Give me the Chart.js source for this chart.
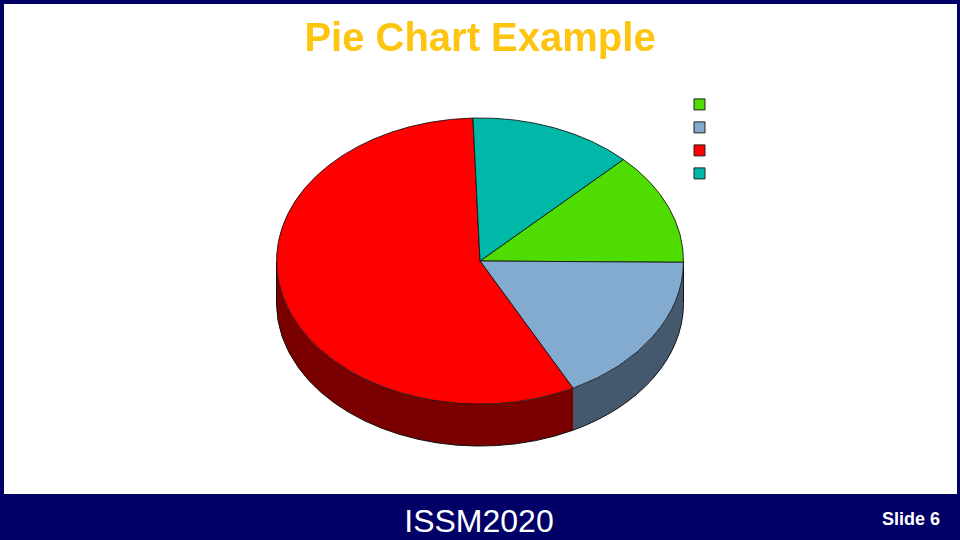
<!DOCTYPE html>
<html>
<head>
<meta charset="utf-8">
<title>Pie Chart Example</title>
<script src="https://cdn.jsdelivr.net/npm/chart.js@4"></script>
<style>
  html, body { margin: 0; padding: 0; background: #fff; }
  #slide { position: relative; width: 960px; height: 540px; overflow: hidden; font-family: "Liberation Sans", Arial, sans-serif; }
  #frame { position: absolute; left: 0; top: 0; width: 953px; height: 490px; border: 4px solid #000066; border-right-width: 3px; border-bottom: 0; }
  #footer { position: absolute; left: 0; top: 494px; width: 960px; height: 46px; background: #000066; color: #fff; }
  #conf { position: absolute; left: 379px; width: 200px; top: 8px; line-height: 38px; font-size: 32px; text-align: center; }
  #slideNo { position: absolute; right: 20px; top: 14px; line-height: 22px; font-size: 18px; font-weight: bold; }
  canvas { position: absolute; left: 0; top: 0; }
</style>
</head>
<body>
<div id="slide">
  <div id="frame"></div>
  <canvas id="pieChart" width="960" height="540"></canvas>
  <div id="footer">
    <div id="conf">ISSM2020</div>
    <div id="slideNo">Slide 6</div>
  </div>
</div>
<script>
// ---- data (legend names are blank in the original)
const categories = ["", "", "", ""];
const sliceValues = [12.7, 17.3, 57.0, 13.0];
const sliceColors = ["#4FDC00", "#82ABCF", "#FF0000", "#00B8A8"];
const sideColors = ["#2A7400", "#44596D", "#7A0000", "#006058"];
const startRotation = 44.8;

// ---- tilt: squash the pie into an ellipse and give it a side wall
const tiltY = 0.703;
const wallDepth = 42;

const tiltPlugin = {
  id: "tilt",
  afterLayout(chart) {
    // title is centred on the whole slide, not on what the padding leaves
    chart.titleBlock.left = 0;
    chart.titleBlock.right = chart.width;
  },
  beforeDatasetsDraw(chart) {
    const ctx = chart.ctx;
    const arcs = chart.getDatasetMeta(0).data;

    // side wall, only the front half of the ellipse can be seen
    arcs.forEach((arc, i) => {
      const a0 = Math.max(arc.startAngle, 0);
      const a1 = Math.min(arc.endAngle, Math.PI);
      if (a1 <= a0) return;
      const rx = arc.outerRadius;
      const ry = rx * tiltY;
      ctx.beginPath();
      ctx.ellipse(arc.x, arc.y + wallDepth, rx, ry, 0, a0, a1);
      ctx.ellipse(arc.x, arc.y, rx, ry, 0, a1, a0, true);
      ctx.closePath();
      ctx.fillStyle = sideColors[i];
      ctx.fill();
      ctx.beginPath();
      ctx.ellipse(arc.x, arc.y + wallDepth, rx, ry, 0, a0, a1);
      ctx.strokeStyle = "#111";
      ctx.lineWidth = 1;
      ctx.stroke();
    });

    // outer verticals of the wall
    const first = arcs[0];
    ctx.beginPath();
    ctx.moveTo(first.x - first.outerRadius, first.y);
    ctx.lineTo(first.x - first.outerRadius, first.y + wallDepth);
    ctx.moveTo(first.x + first.outerRadius, first.y);
    ctx.lineTo(first.x + first.outerRadius, first.y + wallDepth);
    ctx.strokeStyle = "#111";
    ctx.lineWidth = 1;
    ctx.stroke();

    ctx.save();
    ctx.translate(first.x, first.y);
    ctx.scale(1, tiltY);
    ctx.translate(-first.x, -first.y);
  },
  afterDatasetsDraw(chart) {
    chart.ctx.restore();
  }
};

// ---- chart
const pieChart = new Chart(document.getElementById("pieChart"), {
  type: "pie",
  plugins: [tiltPlugin],
  data: {
    labels: categories,
    datasets: [
      {
        data: sliceValues,
        backgroundColor: sliceColors,
        borderColor: "#111",
        borderWidth: 1,
        clip: false
      }
    ]
  },
  options: {
    responsive: false,
    animation: false,
    rotation: startRotation,
    layout: { padding: { left: 269, right: 235, top: 0, bottom: 75 } },
    plugins: {
      tooltip: { enabled: false },
      title: {
        display: true,
        text: "Pie Chart Example",
        color: "#FDC50F",
        font: { family: "'Liberation Sans', Arial, sans-serif", size: 40, weight: "bold", lineHeight: 1 },
        padding: { top: 20, bottom: -3 }
      },
      legend: {
        display: true,
        position: "right",
        align: "start",
        title: { display: true, text: "", padding: { top: 77, bottom: 0 } },
        labels: {
          boxWidth: 11,
          boxHeight: 11,
          padding: 3,
          font: { size: 20, lineHeight: 1 },
          generateLabels(chart) {
            return chart.data.labels.map((label, i) => ({
              text: label,
              fillStyle: sliceColors[i],
              strokeStyle: "#222",
              lineWidth: 1,
              lineJoin: "miter",
              lineCap: "butt",
              index: i
            }));
          }
        }
      }
    }
  }
});
</script>
</body>
</html>
